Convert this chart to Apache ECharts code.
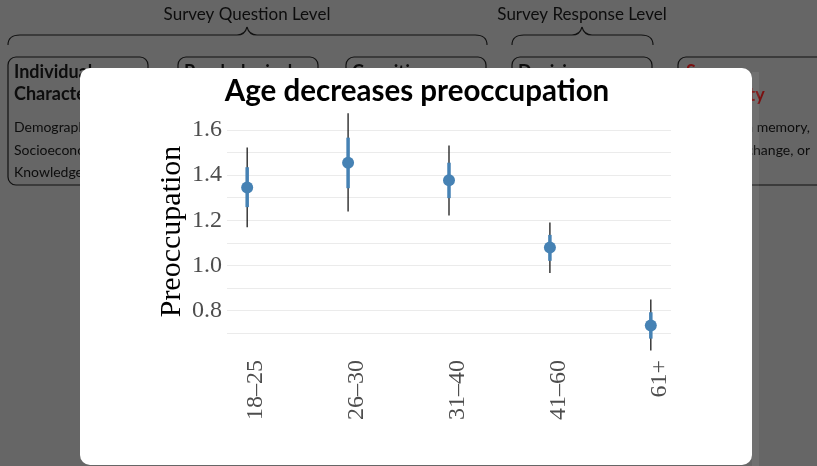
<!DOCTYPE html>
<html><head><meta charset="utf-8">
<script src="https://cdn.jsdelivr.net/npm/echarts@6/dist/echarts.min.js"></script>
<style>html,body{margin:0;padding:0;background:#666666;}#c{width:817px;height:466px;}</style>
</head><body><div id="c"></div>
<script>
const categories = ['18–25', '26–30', '31–40', '41–60', '61+'];
const means   = [1.345, 1.455, 1.377, 1.079, 0.733];
const innerLo = [1.258, 1.342, 1.298, 1.020, 0.675];
const innerHi = [1.435, 1.566, 1.455, 1.135, 0.792];
const outerLo = [1.169, 1.239, 1.221, 0.966, 0.622];
const outerHi = [1.522, 1.674, 1.531, 1.190, 0.848];
const yTicks  = [0.8, 1.0, 1.2, 1.4, 1.6];

const data = categories.map((c, i) => [i, means[i], innerLo[i], innerHi[i], outerLo[i], outerHi[i]]);

const SANS = 'Lato';
const bgText = '#0d0d0d';
function txt(x, y, s, size, weight, color, align) {
  return {type: 'text', x: x, y: y, z: -20, silent: true,
    style: {text: s, fontFamily: SANS, fontSize: size, fontWeight: weight || 'normal',
      fill: color || bgText, textAlign: align || 'left', textVerticalAlign: 'middle'}};
}
function box(x, w) {
  return {type: 'rect', z: -20, silent: true, shape: {x: x, y: 57, width: w, height: 128, r: 8},
    style: {fill: 'none', stroke: '#111', lineWidth: 1.2}};
}
function seg(x1, y1, x2, y2) {
  return {type: 'line', z: -20, silent: true, shape: {x1: x1, y1: y1, x2: x2, y2: y2},
    style: {stroke: '#111', lineWidth: 1.1}};
}
function curve(x1, y1, cx, cy, x2, y2) {
  return {type: 'bezierCurve', z: -20, silent: true,
    shape: {x1: x1, y1: y1, cpx1: cx, cpy1: cy, x2: x2, y2: y2},
    style: {fill: 'none', stroke: '#111', lineWidth: 1.1}};
}
function brace(x1, x2, xm) {
  return [
    curve(x1, 45, x1, 35, x1 + 12, 35), seg(x1 + 12, 35, xm - 10, 35),
    curve(xm - 10, 35, xm - 2, 35, xm, 27), curve(xm, 27, xm + 2, 35, xm + 10, 35),
    seg(xm + 10, 35, x2 - 12, 35), curve(x2 - 12, 35, x2, 35, x2, 45)
  ];
}

const red = '#7a1010';
const graphics = [
  txt(247, 15, 'Survey Question Level', 17, 'normal', bgText, 'center'),
  txt(582, 15, 'Survey Response Level', 17, 'normal', bgText, 'center'),
  ...brace(8, 487, 247), ...brace(512, 653, 582),
  box(8, 140), box(178, 140), box(346, 140), box(512, 140), box(678, 150),
  txt(14, 72, 'Individual', 18, 'bold'), txt(14, 94, 'Characteristics', 18, 'bold'),
  txt(14, 127, 'Demographics,', 14), txt(14, 150, 'Socioeconomic,', 14), txt(14, 172, 'Knowledge', 14),
  txt(184, 72, 'Psychological', 18, 'bold'),
  txt(352, 72, 'Cognitive', 18, 'bold'),
  txt(518, 72, 'Decision', 18, 'bold'),
  txt(686, 72, 'Survey', 18, 'bold', red), txt(686, 95, 'Reliability', 18, 'bold', red),
  txt(810, 127, 'Errors in memory,', 14, 'normal', bgText, 'right'),
  txt(810, 150, 'opinion change, or', 14, 'normal', bgText, 'right'),
  {type: 'rect', z: -12, silent: true, shape: {x: 752, y: 72, width: 7, height: 394}, style: {fill: 'rgba(255,255,255,0.07)'}},
  {type: 'rect', z: -10, silent: true, shape: {x: 80, y: 68, width: 672, height: 397, r: 10}, style: {fill: '#ffffff'}}
];

const chart = echarts.init(document.getElementById('c'));
chart.setOption({
  backgroundColor: '#666666',
  animation: false,
  graphic: graphics,
  title: {text: 'Age decreases preoccupation', left: 412, top: 71, textAlign: 'center',
    textStyle: {fontFamily: SANS, fontWeight: 'bold', fontSize: 29.5, color: '#000'}},
  grid: {left: 227, right: 146, top: 130, bottom: 133},
  xAxis: {type: 'value', min: -0.2, max: 4.2,
    axisLine: {show: false}, axisTick: {show: false}, splitLine: {show: false},
    axisLabel: {customValues: [0, 1, 2, 3, 4], formatter: v => categories[Math.round(v)],
      rotate: 90, margin: 27, verticalAlign: 'top', lineHeight: 18,
      fontFamily: 'Liberation Serif', fontSize: 24, color: '#4d4d4d'}},
  yAxis: {type: 'value', min: 0.7, max: 1.6, interval: 0.1,
    name: 'Preoccupation', nameLocation: 'middle', nameRotate: 90, nameGap: 40, nameMoveOverlap: false,
    nameTextStyle: {fontFamily: 'Liberation Serif', fontSize: 30, color: '#000'},
    axisLine: {show: false}, axisTick: {show: false},
    splitLine: {lineStyle: {color: '#ebebeb', width: 1}},
    axisLabel: {margin: 5, fontFamily: 'Liberation Serif', fontSize: 24, color: '#4d4d4d',
      formatter: v => yTicks.some(t => Math.abs(t - v) < 1e-6) ? v.toFixed(1) : ''}},
  series: [{
    type: 'custom', clip: false, data: data, encode: {x: 0, y: 1},
    renderItem: function (params, api) {
      const x = api.value(0);
      const pm = api.coord([x, api.value(1)]);
      const pil = api.coord([x, api.value(2)]);
      const pih = api.coord([x, api.value(3)]);
      const pol = api.coord([x, api.value(4)]);
      const poh = api.coord([x, api.value(5)]);
      return {type: 'group', children: [
        {type: 'line', shape: {x1: pol[0], y1: pol[1], x2: poh[0], y2: poh[1]}, style: {stroke: '#1a1a1a', lineWidth: 1.3}},
        {type: 'line', shape: {x1: pil[0], y1: pil[1], x2: pih[0], y2: pih[1]}, style: {stroke: '#4682b4', lineWidth: 3.5}},
        {type: 'circle', shape: {cx: pm[0], cy: pm[1], r: 6}, style: {fill: '#4682b4'}}
      ]};
    }
  }]
});
</script></body></html>
